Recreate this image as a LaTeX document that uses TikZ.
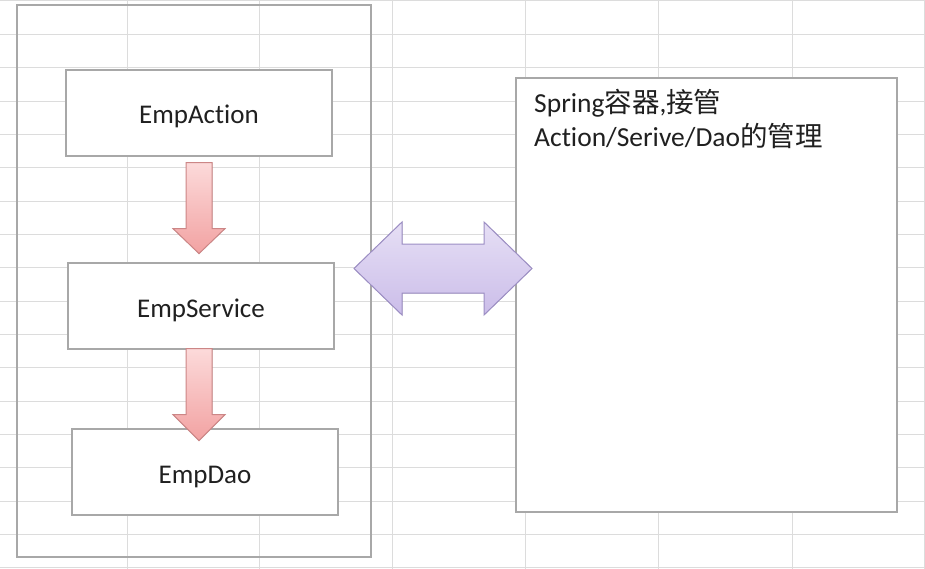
\documentclass[tikz,border=0pt]{standalone}
\usepackage{fontspec}
\setmainfont{Carlito}[Ligatures={NoCommon,NoRare}]
\newfontfamily\cjk{Noto Sans CJK SC}
\usetikzlibrary{calc}

\definecolor{gridgray}{HTML}{DCDCDC}
\definecolor{boxgray}{HTML}{A8A8A8}
\definecolor{inkgray}{HTML}{202020}
\definecolor{pinktop}{HTML}{FCDADA}
\definecolor{pinkbot}{HTML}{F2A2A2}
\definecolor{pinkline}{HTML}{CC8686}
\definecolor{lilactop}{HTML}{E6DFF5}
\definecolor{lilacbot}{HTML}{CBBDE9}
\definecolor{lilacline}{HTML}{9C8EC4}

\begin{document}
\begin{tikzpicture}[x=1pt,y=-1pt,
    gridline/.style={draw=gridgray,line width=1pt},
    box/.style={draw=boxgray,line width=1.2pt,fill=white,inner sep=0pt,
        minimum width=266pt,minimum height=86pt,text=inkgray,
        text height=22pt,text depth=0pt,font=\fontsize{27}{30}\selectfont},
    redarrow/.style={draw=pinkline,line width=1pt,top color=pinktop,bottom color=pinkbot},
    lilacarrow/.style={draw=lilacline,line width=1pt,top color=lilactop,bottom color=lilacbot}]
        \useasboundingbox (0,0) rectangle (925,569);
        \fill[white] (0,0) rectangle (925,569);

        % sheet grid
        \foreach \gx in {127,259,392,525,658,792,924}
            \draw[gridline] (\gx,0) -- (\gx,569);
        \foreach \k in {0,...,17}
            \draw[gridline] (0,{1+33.35*\k}) -- (925,{1+33.35*\k});

        \node[draw=boxgray,line width=1.2pt,minimum width=354pt,minimum height=552pt] (frame) at (194,281) {};

        \node[box] (act) at (199,113) {EmpAction};
        \node[box] (srv) at (201,306) {EmpService};
        \node[box] (dao) at (205,472) {EmpDao};

        \node[draw=boxgray,line width=1.2pt,fill=white,minimum width=381pt,minimum height=434pt] (spring) at (706.5,295) {};
        \node[anchor=base west,align=left,inner sep=0pt,text=inkgray,
            font=\fontsize{27.5}{34}\selectfont] (note) at (534,147)
            {Spring{\cjk 容器},{\cjk 接管}\\Action/Serive/Dao{\cjk 的管理}};

        \coordinate (a1) at ($(act.south)+(0,6)$);
        \coordinate (a2) at ($(srv.south)+(-2,-1)$);
        \coordinate (dbl) at (443,268.5);

        \filldraw[redarrow] (a1) ++(-13,0) -- ++(26,0) -- ++(0,66) -- ++(13,0) -- ++(-26,25) -- ++(-26,-25) -- ++(13,0) -- cycle;
        \filldraw[redarrow] (a2) ++(-13,0) -- ++(26,0) -- ++(0,66) -- ++(13,0) -- ++(-26,26) -- ++(-26,-26) -- ++(13,0) -- cycle;
        \filldraw[lilacarrow] (dbl) ++(-89,0) -- ++(48,-46.5) -- ++(0,22) -- ++(82,0) -- ++(0,-22) -- ++(48,46.5)
            -- ++(-48,46.5) -- ++(0,-22) -- ++(-82,0) -- ++(0,22) -- cycle;
    \end{tikzpicture}
\end{document}
